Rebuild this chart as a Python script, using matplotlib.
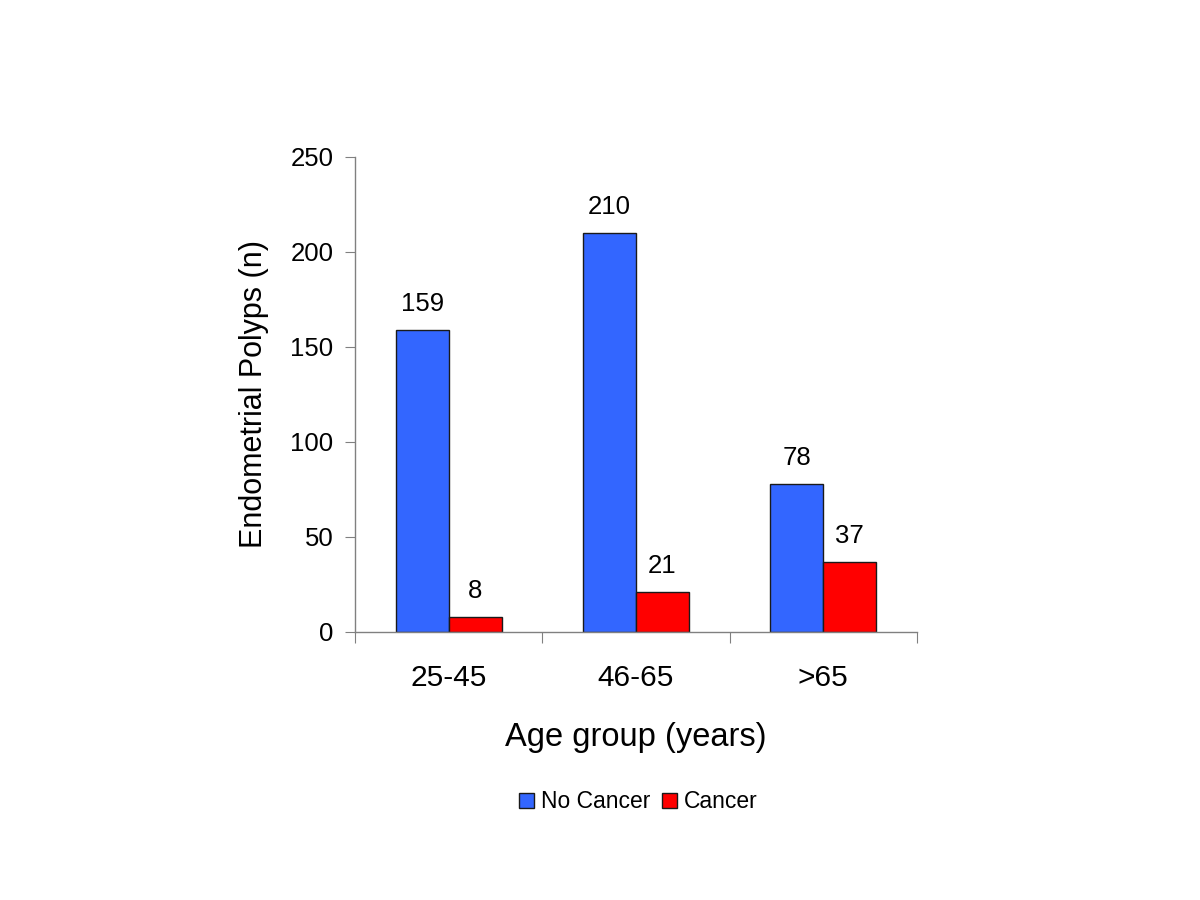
import matplotlib
matplotlib.use("Agg")
import matplotlib.pyplot as plt
import numpy as np

plt.rcParams['font.family'] = ['Liberation Sans', 'DejaVu Sans']

categories = ["25-45", "46-65", ">65"]
no_cancer = [159, 210, 78]
cancer = [8, 21, 37]
series_names = ["No Cancer", "Cancer"]
y_ticks = [0, 50, 100, 150, 200, 250]

blue = "#3366FF"
red = "#FF0000"

fig = plt.figure(figsize=(12, 9), dpi=100)
ax = fig.add_axes([0.2958, 0.2978, 0.4684, 0.5278])

x = np.arange(len(categories))
w = 0.283
b1 = ax.bar(x - w/2, no_cancer, w, color=blue, edgecolor="#1a1a1a", linewidth=1.0, label=series_names[0])
b2 = ax.bar(x + w/2, cancer, w, color=red, edgecolor="#1a1a1a", linewidth=1.0, label=series_names[1])

for bars, vals in ((b1, no_cancer), (b2, cancer)):
    for r, v in zip(bars, vals):
        ax.annotate(str(v), (r.get_x() + r.get_width()/2, v), xytext=(0, 10),
                    textcoords="offset points", ha="center", va="bottom", fontsize=18.5)

ax.set_xlim(-0.5, len(categories) - 0.5)
ax.set_ylim(0, 250)
ax.set_yticks(y_ticks)
ax.tick_params(axis='y', labelsize=18.5, length=7, color="#808080", direction='out', pad=8.5)

ax.set_xticks(np.arange(len(categories) + 1) - 0.5)
ax.set_xticklabels([])
ax.set_xticks(x, minor=True)
ax.set_xticklabels(categories, minor=True, fontsize=21.5)
ax.tick_params(axis='x', which='major', length=8, color="#808080", direction='out')
ax.tick_params(axis='x', which='minor', length=0, pad=23)

for s in ("top", "right"):
    ax.spines[s].set_visible(False)
for s in ("left", "bottom"):
    ax.spines[s].set_color("#808080")
    ax.spines[s].set_linewidth(1.0)

ax.set_ylabel("Endometrial Polyps (n)", fontsize=22, labelpad=15)
ax.set_xlabel("Age group (years)", fontsize=23.5, labelpad=22)

fig.legend(handles=[b1, b2], labels=series_names, loc="center", bbox_to_anchor=(0.532, 0.109),
           ncol=2, frameon=False, fontsize=16.5, handlelength=0.65, handleheight=0.65,
           handletextpad=0.3, columnspacing=0.5)

fig.savefig("out.png", dpi=100, facecolor="white")
